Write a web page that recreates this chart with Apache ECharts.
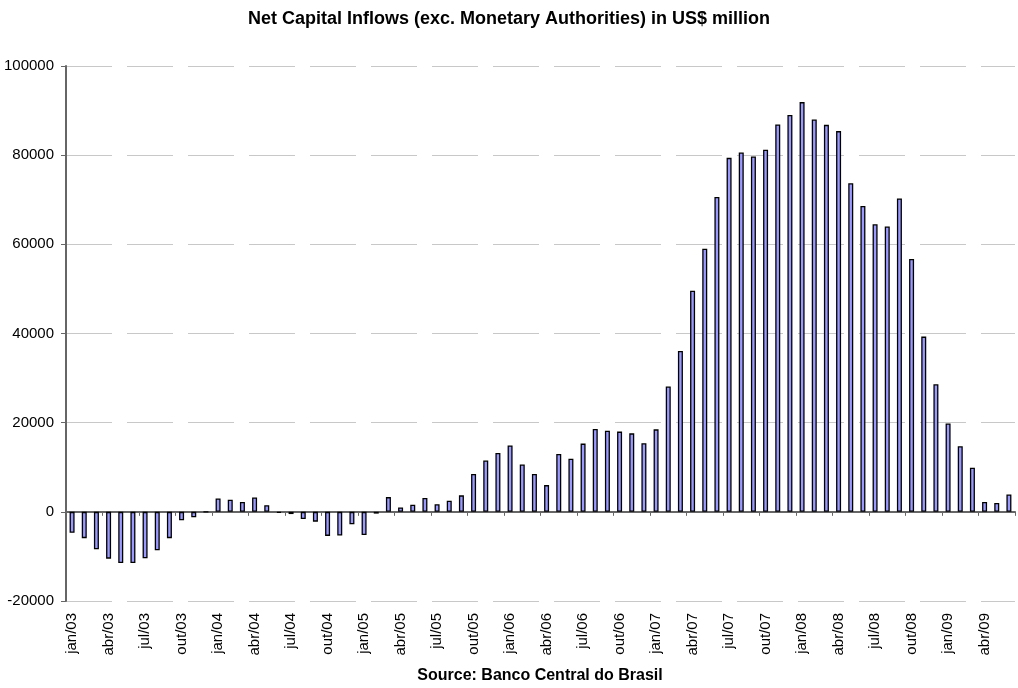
<!DOCTYPE html>
<html>
<head>
<meta charset="utf-8">
<script src="https://cdn.jsdelivr.net/npm/echarts@6/dist/echarts.min.js"></script>
<style>
html,body{margin:0;padding:0;background:#fff;}
#chart{width:1018px;height:688px;}
</style>
</head>
<body>
<div id="chart"></div>
<script>
// Monthly categories jan/03 .. jun/09
const monthNames = ['jan','fev','mar','abr','mai','jun','jul','ago','set','out','nov','dez'];
const years = ['03','04','05','06','07','08','09'];
const categories = [];
years.forEach(function (y) {
  monthNames.forEach(function (m) {
    if (!(y === '09' && monthNames.indexOf(m) > 5)) categories.push(m + '/' + y);
  });
});

// Net capital inflows, US$ million
const values2003 = [-4700, -5900, -8400, -10500, -11500, -11500, -10400, -8600, -5900, -1900, -1200, 0];
const values2004 = [3000, 2700, 2200, 3200, 1500, -200, -500, -1600, -2200, -5400, -5300, -2800];
const values2005 = [-5200, -400, 3300, 1000, 1600, 3100, 1700, 2500, 3700, 8500, 11500, 13200];
const values2006 = [14900, 10600, 8500, 6000, 13000, 11900, 15300, 18600, 18200, 18000, 17600, 15400];
const values2007 = [18500, 28100, 36100, 49600, 59000, 70600, 79400, 80600, 79700, 81200, 86900, 89000];
const values2008 = [91900, 88000, 86800, 85400, 73700, 68600, 64500, 64000, 70300, 56700, 39300, 28600];
const values2009 = [19800, 14700, 9900, 2200, 2000, 3900];
const values = [].concat(values2003, values2004, values2005, values2006, values2007, values2008, values2009);

const yTicks = { min: -20000, max: 100000, interval: 20000 };

const chart = echarts.init(document.getElementById('chart'), null, { renderer: 'canvas' });
const FONT = '"Liberation Sans", Arial, sans-serif';

chart.setOption({
  animation: false,
  backgroundColor: '#ffffff',
  title: {
    text: 'Net Capital Inflows (exc. Monetary Authorities) in US$ million',
    left: 'center', top: 5,
    textStyle: { fontFamily: FONT, fontSize: 18, fontWeight: 'bold', color: '#000' }
  },
  graphic: [
    {
      type: 'text', x: 540, y: 668,
      style: {
        text: 'Source: Banco Central do Brasil',
        fontFamily: FONT, fontSize: 16, fontWeight: 'bold', fill: '#000',
        textAlign: 'center', textVerticalAlign: 'top'
      }
    }
  ],
  grid: { left: 66, right: 3, top: 66, bottom: 87, containLabel: false },
  xAxis: [
    {
      type: 'category',
      data: categories,
      boundaryGap: true,
      axisLine: { show: true, onZero: true, lineStyle: { color: '#666', width: 2 } },
      axisTick: { show: true, interval: 2, length: 4, inside: false, lineStyle: { color: '#666', width: 1 } },
      axisLabel: { show: false },
      splitLine: { show: false }
    },
    {
      type: 'category',
      data: categories,
      position: 'bottom',
      boundaryGap: true,
      axisLine: { show: false, onZero: false },
      axisTick: { show: false },
      axisLabel: {
        show: true, interval: 2, rotate: 90, margin: 12,
        fontFamily: FONT, fontSize: 15, color: '#000'
      },
      splitLine: { show: false }
    }
  ],
  yAxis: {
    type: 'value',
    min: yTicks.min, max: yTicks.max, interval: yTicks.interval,
    axisLine: { show: true, lineStyle: { color: '#666', width: 2 } },
    axisTick: { show: true, length: 5, lineStyle: { color: '#666', width: 1 } },
    axisLabel: { fontFamily: FONT, fontSize: 15, color: '#000', margin: 12, formatter: function (v) { return String(v); } },
    splitLine: { show: true, lineStyle: { color: '#c8c8c8', width: 1, type: [46, 15] } }
  },
  series: [
    {
      type: 'bar',
      xAxisIndex: 0,
      data: values,
      barWidth: 5,
      itemStyle: { color: '#9999ff', borderColor: '#000', borderWidth: 1.3 }
    }
  ]
});
</script>
</body>
</html>
